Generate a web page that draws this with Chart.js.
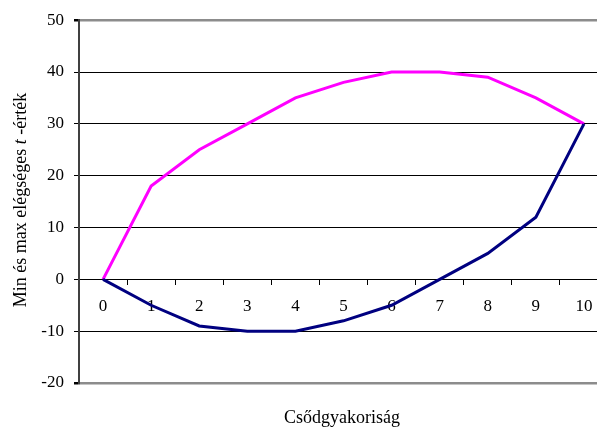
<!DOCTYPE html>
<html>
<head>
<meta charset="utf-8">
<script src="https://cdn.jsdelivr.net/npm/chart.js@4"></script>
<style>
  body { margin: 0; overflow: hidden; background: #fff; }
</style>
</head>
<body>
<canvas id="chart1" width="610" height="428"></canvas>
<script>
// data
const categories = ['0', '1', '2', '3', '4', '5', '6', '7', '8', '9', '10'];
const maxValues = [0, 18, 25, 30, 35, 38, 40, 40, 39, 35, 30];
const minValues = [0, -5, -9, -10, -10, -8, -5, 0, 5, 12, 30];
const yTicks = [-20, -10, 0, 10, 20, 30, 40, 50];

const serif = 'Liberation Serif';

// axis titles drawn by hand, the y title has an italic t in it
const titlePlugin = {
    id: 'titles',
    afterDraw(chart) {
        const c = chart.ctx;
        c.save();
        c.fillStyle = '#000';
        c.textBaseline = 'alphabetic';

        // x title
        c.font = '18px "' + serif + '"';
        c.textAlign = 'center';
        c.fillText('Csődgyakoriság', 342, 423);

        // y title, rotated
        const parts = [
            { text: 'Min és max elégséges ', font: '18px "' + serif + '"' },
            { text: 't', font: 'italic 18px "' + serif + '"' },
            { text: ' -érték', font: '18px "' + serif + '"' }
        ];
        let total = 0;
        parts.forEach(p => { c.font = p.font; p.w = c.measureText(p.text).width; total += p.w; });
        c.translate(26, 200);
        c.rotate(-Math.PI / 2);
        c.textAlign = 'left';
        let x = -total / 2;
        parts.forEach(p => { c.font = p.font; c.fillText(p.text, x, 0); x += p.w; });
        c.restore();
    }
};

const ctx1 = document.getElementById('chart1').getContext('2d');
new Chart(ctx1, {
    type: 'line',
    data: {
        labels: categories,
        datasets: [
            {
                label: 'max',
                data: maxValues,
                borderColor: '#FF00FF',
                borderWidth: 3,
                pointRadius: 0,
                tension: 0,
                order: 1
            },
            {
                label: 'min',
                data: minValues,
                borderColor: '#000080',
                borderWidth: 3,
                pointRadius: 0,
                tension: 0,
                order: 0
            }
        ]
    },
    options: {
        responsive: false,
        animation: false,
        layout: { padding: { left: 0, top: 18, right: 2, bottom: 45 } },
        plugins: {
            legend: { display: false },
            tooltip: { enabled: false }
        },
        scales: {
            x: {
                type: 'category',
                position: { y: 0 },
                offset: true,
                grid: {
                    offset: true,
                    drawOnChartArea: false,
                    tickLength: 6,
                    color: '#000'
                },
                border: { display: false },
                ticks: {
                    color: '#000',
                    padding: 11,
                    maxRotation: 0,
                    font: { family: serif, size: 17 }
                }
            },
            y: {
                min: yTicks[0],
                max: yTicks[yTicks.length - 1],
                afterFit(scale) { scale.width = 79; },
                afterBuildTicks(scale) { scale.ticks = yTicks.map(v => ({ value: v })); },
                grid: {
                    color: c => (c.tick && (c.tick.value === 50 || c.tick.value === -20)) ? '#8c8c8c' : '#000',
                    lineWidth: c => (c.tick && (c.tick.value === 50 || c.tick.value === -20)) ? 2.5 : 1,
                    tickColor: '#000',
                    tickLength: 5
                },
                border: { color: '#404040', width: 2 },
                ticks: {
                    color: '#000',
                    padding: 10,
                    font: { family: serif, size: 17 }
                }
            }
        }
    },
    plugins: [titlePlugin]
});
</script>
</body>
</html>
